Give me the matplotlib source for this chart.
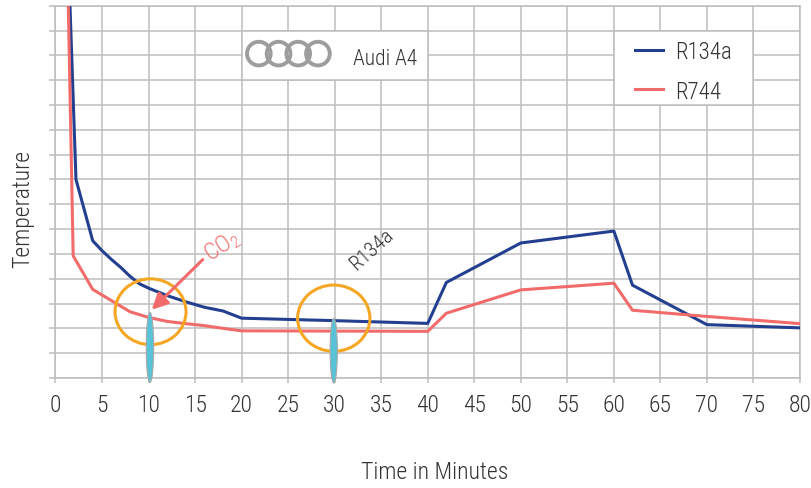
import matplotlib
matplotlib.use("Agg")
import matplotlib.pyplot as plt
import matplotlib.font_manager as fm
from matplotlib.patches import Ellipse, Rectangle
from matplotlib.lines import Line2D

# ---- data -------------------------------------------------------------
r134a_t = [1.5, 2.2, 4, 5, 6, 7, 8, 9, 10, 12, 14, 16, 18, 20, 30, 40,
           42, 50, 60, 62, 70, 80]
r134a_temp = [15.6, 8.0, 5.53, 5.13, 4.78, 4.46, 4.1, 3.8, 3.62, 3.32, 3.07,
              2.85, 2.7, 2.41, 2.31, 2.20, 3.85, 5.44, 5.92, 3.74, 2.15, 2.02]

r744_t = [1.35, 1.9, 4, 6, 8, 10, 12, 14, 16, 18, 20, 30, 40,
          42, 50, 60, 62, 70, 80]
r744_temp = [15.5, 4.92, 3.57, 3.12, 2.67, 2.44, 2.28, 2.19, 2.11, 2.0, 1.90,
             1.89, 1.88, 2.61, 3.55, 3.82, 2.73, 2.48, 2.19]

x_ticks = list(range(0, 81, 5))
y_ticks = list(range(0, 16))
series_names = ["R134a", "R744"]

# ---- style ------------------------------------------------------------
names = {f.name for f in fm.fontManager.ttflist}
FONT = "DejaVu Sans"
for fam in ["Roboto Condensed", "Liberation Sans Narrow", "Roboto"]:
    if fam in names:
        FONT = fam
        break
plt.rcParams["font.family"] = [FONT, "DejaVu Sans"]
plt.rcParams["font.weight"] = "light"
plt.rcParams["axes.labelweight"] = "light"
plt.rcParams["mathtext.fontset"] = "custom"
plt.rcParams["mathtext.rm"] = FONT + ":light"
plt.rcParams["mathtext.it"] = FONT + ":light"

BLUE = "#233f8f"
RED = "#f26b6b"
GRID = "#bdbdbd"
TEXT = "#333333"
ORANGE = "#f5a623"
CYAN = "#58c3d6"
RING = "#9d9d9d"

fig = plt.figure(figsize=(8.12, 4.89), dpi=100)
ax = fig.add_axes([55.5 / 812, 1 - 379 / 489, 744.5 / 812, 372.3 / 489])

ax.set_xlim(0, 80)
ax.set_ylim(0, 15)
ax.set_xticks(x_ticks)
ax.set_yticks(y_ticks)
ax.set_yticklabels([])
ax.grid(True, color=GRID, linewidth=1.1, zorder=0)
ax.set_axisbelow(True)
for s in ax.spines.values():
    s.set_color(GRID)
    s.set_linewidth(1.1)
ax.tick_params(axis="x", direction="out", length=3.8, width=1.1, color=GRID,
               labelsize=17, labelcolor=TEXT, pad=7)
ax.tick_params(axis="y", direction="out", length=4.4, width=1.1, color=GRID)

# background panels for the logo and the legend
ax.add_patch(Rectangle((20, 12), 20, 2, facecolor="white", edgecolor=GRID,
                       linewidth=1.1, zorder=1))
ax.add_patch(Rectangle((60, 11), 15, 3, facecolor="white", edgecolor=GRID,
                       linewidth=1.1, zorder=1))

# series
ax.plot(r134a_t, r134a_temp, color=BLUE, linewidth=2.2, zorder=3)
ax.plot(r744_t, r744_temp, color=RED, linewidth=2.2, zorder=3)

# highlight circles
ax.add_patch(Ellipse((10.21, 2.67), 7.63, 2.65, fill=False, edgecolor=ORANGE,
                     linewidth=2.2, zorder=4))
ax.add_patch(Ellipse((29.9, 2.41), 7.77, 2.67, fill=False, edgecolor=ORANGE,
                     linewidth=2.2, zorder=4))

# markers at the sampling times
ax.add_patch(Ellipse((10.15, 1.23), 0.8, 2.82, facecolor=CYAN, edgecolor="#a8a8a8",
                     linewidth=0.8, zorder=5, clip_on=False))
ax.add_patch(Ellipse((29.9, 1.10), 0.78, 2.61, facecolor=CYAN, edgecolor="#a8a8a8",
                     linewidth=0.8, zorder=5, clip_on=False))

# CO2 arrow and labels
ax.annotate("", xy=(10.34, 2.75), xytext=(15.82, 4.77),
            arrowprops=dict(arrowstyle="-|>", color=RED, lw=2.2,
                            mutation_scale=24, shrinkA=0, shrinkB=0),
            zorder=6)
ax.text(17.9, 5.35, r"CO$_\mathregular{2}$", color="#f27676", fontsize=17.5,
        rotation=33, ha="center", va="center", zorder=6)
ax.text(33.98, 5.2, "R134a", color=TEXT, fontsize=15, rotation=42,
        ha="center", va="center", zorder=6)

# logo
ring_x = [21.85, 23.97, 26.08, 28.2]
ax.scatter(ring_x, [13.07] * 4, s=290, facecolors="none", edgecolors=RING,
           linewidths=2.8, zorder=2)
ax.text(32.0, 12.89, "Audi A4", color=TEXT, fontsize=15.5, ha="left",
        va="center", zorder=2)

# legend
handles = [Line2D([], [], color=BLUE, linewidth=2.2),
           Line2D([], [], color=RED, linewidth=2.2)]
leg = ax.legend(handles, series_names, loc="upper left",
                bbox_to_anchor=(62.27, 13.6), bbox_transform=ax.transData,
                frameon=False, fontsize=16.5, handlelength=1.2,
                handletextpad=0.55, labelspacing=0.7, borderpad=0,
                borderaxespad=0)
for t in leg.get_texts():
    t.set_color(TEXT)

ax.set_xlabel("Time in Minutes", fontsize=17, color=TEXT, va="center")
ax.xaxis.set_label_coords(0.5097, -0.2498)
ax.set_ylabel("Temperature", fontsize=17, color=TEXT, va="center")
ax.yaxis.set_label_coords(-0.0437, 0.4566)

fig.savefig("out.png", dpi=100)
